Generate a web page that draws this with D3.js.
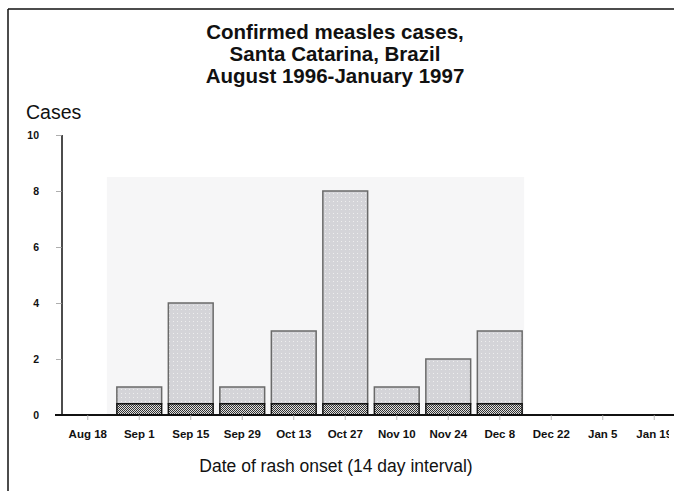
<!DOCTYPE html>
<html>
<head>
<meta charset="utf-8">
<script src="https://cdn.jsdelivr.net/npm/d3@7/dist/d3.min.js"></script>
<style>
  body { margin: 0; background: #fff; }
  svg { display: block; font-family: "Liberation Sans", Arial, Helvetica, sans-serif; }
</style>
</head>
<body>
<div id="chart"></div>
<script>
// data
var categories = ["Aug 18", "Sep 1", "Sep 15", "Sep 29", "Oct 13", "Oct 27",
                  "Nov 10", "Nov 24", "Dec 8", "Dec 22", "Jan 5", "Jan 19"];
var cases = [0, 1, 4, 1, 3, 8, 1, 2, 3, 0, 0, 0];
var baseBand = [0, 0.4, 0.4, 0.4, 0.4, 0.4, 0.4, 0.4, 0.4, 0, 0, 0];
var yTicks = [0, 2, 4, 6, 8, 10];
var titleLines = ["Confirmed measles cases,", "Santa Catarina, Brazil", "August 1996-January 1997"];

var width = 674, height = 491;

var svg = d3.select("#chart").append("svg")
    .attr("width", width)
    .attr("height", height);

// patterns for the bar fills
var defs = svg.append("defs");
var light = defs.append("pattern")
    .attr("id", "lightDots")
    .attr("width", 4).attr("height", 4)
    .attr("patternUnits", "userSpaceOnUse");
light.append("rect").attr("width", 4).attr("height", 4).attr("fill", "#d4d4d8");
light.append("rect").attr("x", 1).attr("y", 1).attr("width", 1).attr("height", 1).attr("fill", "#eeeeee");

var dark = defs.append("pattern")
    .attr("id", "darkDots")
    .attr("width", 2).attr("height", 2)
    .attr("patternUnits", "userSpaceOnUse");
dark.append("rect").attr("width", 2).attr("height", 2).attr("fill", "#e0e0e0");
dark.append("rect").attr("width", 1).attr("height", 1).attr("fill", "#333");
dark.append("rect").attr("x", 1).attr("y", 1).attr("width", 1).attr("height", 1).attr("fill", "#333");

// the scan is cut at the right edge (labels only, the axis line runs on)
var clip = defs.append("clipPath").attr("id", "scanClip");
clip.append("rect").attr("x", 0).attr("y", -500).attr("width", width).attr("height", 503);
clip.append("rect").attr("x", 0).attr("y", 0).attr("width", 669).attr("height", 200);

// frame
svg.append("line").attr("x1", 8).attr("y1", 9).attr("x2", width).attr("y2", 9)
    .attr("stroke", "#111").attr("stroke-width", 1.5);
svg.append("line").attr("x1", 8).attr("y1", 9).attr("x2", 8).attr("y2", height)
    .attr("stroke", "#111").attr("stroke-width", 1.5);

// scales
var x = d3.scaleBand()
    .domain(categories)
    .range([62, 680])
    .paddingInner(0.13)
    .paddingOuter(0.065);

var y = d3.scaleLinear()
    .domain([0, 10])
    .range([415, 135]);

// faint scan background behind the bars
svg.append("rect")
    .attr("x", x("Sep 1") - 10)
    .attr("y", y(8.5))
    .attr("width", x("Dec 8") + x.bandwidth() + 2 - (x("Sep 1") - 10))
    .attr("height", y(0) - y(8.5))
    .attr("fill", "#f6f6f7");

// title
svg.append("g").selectAll("text")
    .data(titleLines)
    .enter().append("text")
    .attr("x", 335)
    .attr("y", function (d, i) { return 39 + i * 22; })
    .attr("text-anchor", "middle")
    .attr("font-size", "20.5px")
    .attr("font-weight", "bold")
    .attr("fill", "#111")
    .text(function (d) { return d; });

// y label
svg.append("text")
    .attr("x", 26).attr("y", 119)
    .attr("font-size", "19.5px")
    .attr("fill", "#111")
    .text("Cases");

// bars
var bars = svg.append("g");
bars.selectAll("rect.top")
    .data(cases.map(function (v, i) { return {cat: categories[i], v: v, b: baseBand[i]}; })
        .filter(function (d) { return d.v > 0; }))
    .enter().append("rect")
    .attr("class", "top")
    .attr("x", function (d) { return x(d.cat); })
    .attr("y", function (d) { return y(d.v); })
    .attr("width", x.bandwidth())
    .attr("height", function (d) { return y(d.b) - y(d.v); })
    .attr("fill", "url(#lightDots)")
    .attr("stroke", "#6a6a6a")
    .attr("stroke-width", 1.5);

bars.selectAll("rect.base")
    .data(baseBand.map(function (v, i) { return {cat: categories[i], v: v}; })
        .filter(function (d) { return d.v > 0; }))
    .enter().append("rect")
    .attr("class", "base")
    .attr("x", function (d) { return x(d.cat); })
    .attr("y", function (d) { return y(d.v); })
    .attr("width", x.bandwidth())
    .attr("height", function (d) { return y(0) - y(d.v); })
    .attr("fill", "url(#darkDots)")
    .attr("stroke", "#111")
    .attr("stroke-width", 1.5);

// y axis
var yAxis = svg.append("g")
    .attr("transform", "translate(62,0)")
    .call(d3.axisLeft(y).tickValues(yTicks).tickSize(6).tickPadding(17).tickFormat(d3.format("d")));
yAxis.select(".domain").attr("stroke", "#111").attr("stroke-width", 1.5).attr("d", "M0,135V415");
yAxis.selectAll(".tick line").attr("stroke", "#999").attr("stroke-width", 0.8);
yAxis.selectAll(".tick text")
    .attr("font-family", "Liberation Sans, Arial, sans-serif")
    .attr("font-size", "10.5px")
    .attr("font-weight", "bold")
    .attr("fill", "#111");

// x axis
var xAxis = svg.append("g")
    .attr("transform", "translate(0,415)")
    .attr("clip-path", "url(#scanClip)")
    .call(d3.axisBottom(x).tickSize(5).tickPadding(10));
xAxis.select(".domain").attr("stroke", "#111").attr("stroke-width", 1.8).attr("d", "M55,0H674");
xAxis.selectAll(".tick line").attr("stroke", "#aaa").attr("stroke-width", 0.8);
xAxis.selectAll(".tick text")
    .attr("font-family", "Liberation Sans, Arial, sans-serif")
    .attr("font-size", "11.5px")
    .attr("font-weight", "bold")
    .attr("fill", "#111");

// x title
svg.append("text")
    .attr("x", 336).attr("y", 472)
    .attr("text-anchor", "middle")
    .attr("font-size", "17.5px")
    .attr("fill", "#111")
    .text("Date of rash onset (14 day interval)");
</script>
</body>
</html>
